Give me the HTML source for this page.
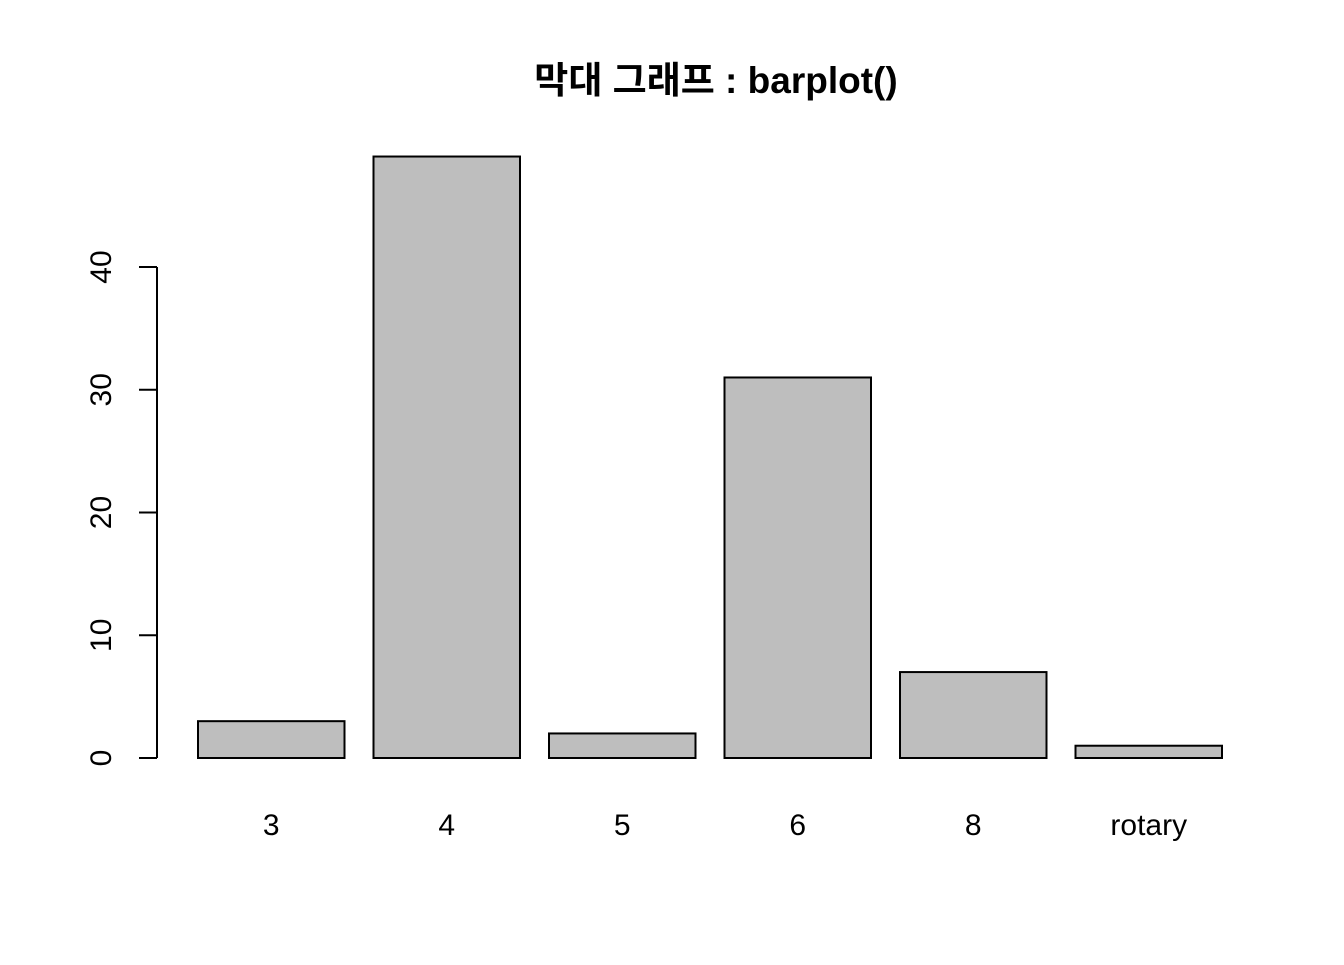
<!DOCTYPE html>
<html><head><meta charset="utf-8"><style>
body{margin:0;background:#fff}
svg text{font-family:"Liberation Sans","Noto Sans CJK KR",sans-serif}
</style></head><body>
<svg id="chart" width="1344" height="960">
<text x="716" y="93" text-anchor="middle" font-size="37" font-weight="bold">막대 그래프 : barplot()</text>
<g id="bars"></g><g id="yaxis"></g><g id="xlabels"></g>
</svg>
<script>
const categories=["3","4","5","6","8","rotary"];
const values=[3,49,2,31,7,1];
const yTicks=[0,10,20,30,40];
const ns="http://www.w3.org/2000/svg";
const y=v=>758-v*12.275;
const x=i=>198+i*175.5;
const bw=146.5;
const bars=document.getElementById('bars');
const xl=document.getElementById('xlabels');
categories.forEach((c,i)=>{
 const r=document.createElementNS(ns,'rect');
 r.setAttribute('x',x(i));r.setAttribute('y',y(values[i]));
 r.setAttribute('width',bw);r.setAttribute('height',y(0)-y(values[i]));
 r.setAttribute('fill','#bebebe');r.setAttribute('stroke','#000');r.setAttribute('stroke-width','2');
 
 
 bars.appendChild(r);
 const t=document.createElementNS(ns,'text');
 t.setAttribute('x',x(i)+bw/2);t.setAttribute('y',835);t.setAttribute('text-anchor','middle');t.setAttribute('font-size','30');
 t.textContent=c;
 
 
 xl.appendChild(t);
});
const ya=document.getElementById('yaxis');
const l=document.createElementNS(ns,'line');
l.setAttribute('x1',157);l.setAttribute('x2',157);l.setAttribute('y1',y(yTicks[0]));l.setAttribute('y2',y(yTicks[yTicks.length-1]));
l.setAttribute('stroke','#000');l.setAttribute('stroke-width','2');


ya.appendChild(l);
yTicks.forEach(v=>{
 const tk=document.createElementNS(ns,'line');
 tk.setAttribute('x1',139);tk.setAttribute('x2',157);tk.setAttribute('y1',y(v));tk.setAttribute('y2',y(v));
 tk.setAttribute('stroke','#000');tk.setAttribute('stroke-width','2');
 
 
 ya.appendChild(tk);
 const t=document.createElementNS(ns,'text');
 t.setAttribute('transform','translate(111,'+y(v)+') rotate(-90)');
 t.setAttribute('text-anchor','middle');t.setAttribute('font-size','30');
 t.textContent=v;
 
 
 ya.appendChild(t);
});
</script>
</body></html>
